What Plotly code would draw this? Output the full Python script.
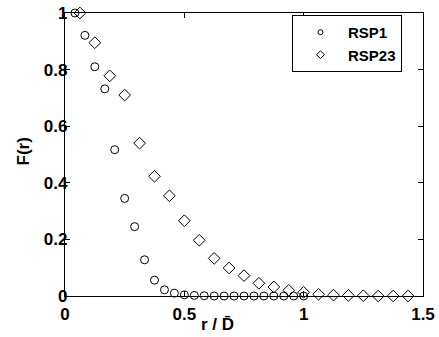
import plotly.graph_objects as go

# RSP1 (circles)
r_rsp1 = [0.0417, 0.0833, 0.125, 0.1667, 0.2083, 0.25, 0.2917, 0.3333, 0.375, 0.4167,
          0.4583, 0.5, 0.5417, 0.5833, 0.625, 0.6667, 0.7083, 0.75, 0.7917, 0.8333,
          0.875, 0.9167, 0.9583, 1.0]
f_rsp1 = [1.0, 0.921, 0.81, 0.732, 0.517, 0.345, 0.245, 0.128, 0.056, 0.022,
          0.01, 0.004, 0.002, 0.001, 0.0, 0.0, 0.0, 0.0, 0.0, 0.0,
          0.0, 0.0, 0.0, 0.0]

# RSP23 (diamonds)
r_rsp23 = [0.0625, 0.125, 0.1875, 0.25, 0.3125, 0.375, 0.4375, 0.5, 0.5625, 0.625,
           0.6875, 0.75, 0.8125, 0.875, 0.9375, 1.0, 1.0625, 1.125, 1.1875, 1.25,
           1.3125, 1.375, 1.4375]
f_rsp23 = [1.0, 0.895, 0.778, 0.71, 0.54, 0.423, 0.354, 0.266, 0.197, 0.133,
           0.099, 0.072, 0.045, 0.032, 0.02, 0.013, 0.006, 0.003, 0.002, 0.001,
           0.0, 0.0, 0.0]

x_ticks = [0, 0.5, 1, 1.5]
x_tick_labels = ["0", "0.5", "1", "1.5"]
y_ticks = [0, 0.2, 0.4, 0.6, 0.8, 1]
y_tick_labels = ["0", "0.2", "0.4", "0.6", "0.8", "1"]

FONT = "Liberation Sans, Arial, sans-serif"

fig = go.Figure()
fig.add_trace(go.Scatter(x=r_rsp1, y=f_rsp1, mode="markers", name="RSP1",
                         showlegend=False, cliponaxis=False,
                         marker=dict(symbol="circle-open", size=8, color="black",
                                     line=dict(width=1, color="black"))))
fig.add_trace(go.Scatter(x=r_rsp23, y=f_rsp23, mode="markers", name="RSP23",
                         showlegend=False, cliponaxis=False,
                         marker=dict(symbol="diamond-open", size=9, color="black",
                                     line=dict(width=1, color="black"))))
# legend entries (smaller symbols as in the reference legend)
fig.add_trace(go.Scatter(x=[None], y=[None], mode="markers", name="RSP1",
                         marker=dict(symbol="circle-open", size=5, color="black",
                                     line=dict(width=1, color="black"))))
fig.add_trace(go.Scatter(x=[None], y=[None], mode="markers", name="RSP23",
                         marker=dict(symbol="diamond-open", size=6, color="black",
                                     line=dict(width=1, color="black"))))

axis_common = dict(showgrid=False, zeroline=False, showline=True, linecolor="black",
                   linewidth=1.2, mirror="ticks", ticks="inside", ticklen=5,
                   tickcolor="black", tickwidth=1, automargin=False,
                   tickfont=dict(family=FONT, size=17, color="black", weight="bold"))

fig.update_xaxes(range=[0, 1.5], tickvals=x_ticks, ticktext=x_tick_labels,
                 ticklabelstandoff=2, **axis_common)
fig.update_yaxes(range=[0, 1], tickvals=y_ticks, ticktext=y_tick_labels,
                 ticklabelstandoff=-7, **axis_common)

fig.add_annotation(text="F(r)", xref="paper", yref="paper", x=-0.115, y=0.51,
                   xanchor="center", yanchor="middle", showarrow=False, textangle=-90,
                   font=dict(family=FONT, size=17, color="black", weight="bold"))
fig.add_annotation(text="r / D\u0304", xref="paper", yref="paper", x=0.427, y=-0.1,
                   xanchor="center", yanchor="middle", showarrow=False,
                   font=dict(family=FONT, size=17, color="black", weight="bold"))

fig.update_layout(
    width=439, height=337,
    margin=dict(l=65, r=16, t=13, b=41),
    paper_bgcolor="white", plot_bgcolor="white",
    legend=dict(x=0.634, y=0.993, xanchor="left", yanchor="top",
                bordercolor="black", borderwidth=1, bgcolor="white",
                font=dict(family=FONT, size=15, color="black", weight="bold"),
                itemwidth=45, tracegroupgap=0),
)

fig.write_html("out.html", config={"displayModeBar": False},
               post_script="document.body.style.margin='0';document.body.style.padding='0';")
